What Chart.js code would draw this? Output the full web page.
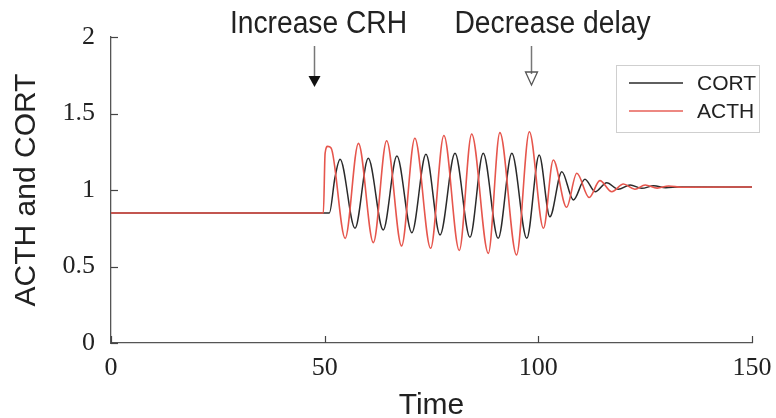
<!DOCTYPE html>
<html><head><meta charset="utf-8">
<script src="https://cdn.jsdelivr.net/npm/chart.js@4.4.1/dist/chart.umd.min.js"></script>
<style>html,body{margin:0;padding:0;background:#fff;}canvas{display:block;}</style>
</head><body>
<canvas id="c" width="776" height="418"></canvas>
<script>
const seriesNames = ['CORT', 'ACTH'];
const cortTime  = [0, 51.1, 52.4, 53.6, 57.1, 60.2, 63.7, 66.9, 70.4, 73.7, 77.0, 80.5, 84.0, 87.1, 90.6, 93.8, 97.3, 100.2, 102.7, 105.5, 108.2, 110.9, 113.3, 116.0, 118.7, 121.5, 124.2, 127.0, 129.8, 133.0, 150];
const cortValue = [0.85, 0.85, 1.08, 1.201, 0.750, 1.207, 0.739, 1.222, 0.721, 1.233, 0.706, 1.240, 0.691, 1.240, 0.684, 1.240, 0.684, 1.229, 0.825, 1.120, 0.935, 1.070, 0.989, 1.048, 1.005, 1.033, 1.011, 1.027, 1.015, 1.02, 1.02];
const acthTime  = [0, 49.7, 50.1, 50.7, 51.5, 54.8, 57.9, 61.4, 64.5, 68.0, 71.1, 74.8, 77.9, 81.5, 84.4, 88.3, 91.0, 94.9, 97.9, 101.2, 103.5, 106.6, 109.0, 111.9, 114.4, 117.2, 119.9, 122.6, 125.0, 127.8, 130.5, 133.5, 150];
const acthValue = [0.85, 0.85, 1.24, 1.285, 1.275, 0.684, 1.305, 0.656, 1.322, 0.634, 1.338, 0.619, 1.356, 0.605, 1.366, 0.586, 1.375, 0.575, 1.381, 0.750, 1.196, 0.887, 1.109, 0.951, 1.061, 0.989, 1.039, 1.005, 1.033, 1.012, 1.026, 1.018, 1.02];
const xTicks = [0, 50, 100, 150];
const yTicks = [0, 0.5, 1, 1.5, 2];
const eventTimes  = [47.6, 98.2];
const eventLabels = ['Increase CRH', 'Decrease delay'];
const xTitle = 'Time';
const yTitle = 'ACTH and CORT';

const COL_CORT = '#2a2a2a';
const COL_ACTH = '#e6564d';
const tickFont = {family: "'Liberation Serif', 'Times New Roman', serif", size: 26};
const titleFont = {family: "'Liberation Sans', Arial, sans-serif", size: 30, lineHeight: 1};

const toPts = (t, v) => t.map((x, i) => ({x: x, y: v[i]}));

const overlay = {
  id: 'overlay',
  afterDraw(chart) {
    const {ctx, chartArea: a, scales: {x, y}} = chart;
    ctx.save();
    // inward tick marks
    ctx.strokeStyle = '#444';
    ctx.lineWidth = 1.2;
    xTicks.forEach(v => {
      const px = Math.round(x.getPixelForValue(v)) + 0.5;
      ctx.beginPath(); ctx.moveTo(px, a.bottom); ctx.lineTo(px, a.bottom - 7); ctx.stroke();
    });
    yTicks.forEach(v => {
      const py = Math.round(y.getPixelForValue(v)) + 0.5;
      ctx.beginPath(); ctx.moveTo(a.left, py); ctx.lineTo(a.left + 7, py); ctx.stroke();
    });
    // legend box
    const bx = a.right - 136, by = a.top + 28, bw = 143, bh = 67;
    ctx.fillStyle = '#fff';
    ctx.fillRect(bx, by, bw, bh);
    ctx.strokeStyle = '#cfcfcf';
    ctx.lineWidth = 1;
    ctx.strokeRect(bx + 0.5, by + 0.5, bw, bh);
    ctx.font = "21px 'Liberation Sans', Arial, sans-serif";
    ctx.textBaseline = 'middle';
    ctx.textAlign = 'left';
    chart.data.datasets.slice().sort((p, q) => seriesNames.indexOf(p.label) - seriesNames.indexOf(q.label)).forEach((ds, i) => {
      const ly = by + 18 + i * 28;
      ctx.strokeStyle = ds.borderColor;
      ctx.lineWidth = ds.label === 'ACTH' ? 2 : 1.5;
      ctx.globalAlpha = ds.label === 'ACTH' ? 0.7 : 1;
      ctx.beginPath(); ctx.moveTo(bx + 13, ly); ctx.lineTo(bx + 67, ly); ctx.stroke();
      ctx.globalAlpha = 1;
      ctx.fillStyle = '#222';
      ctx.fillText(ds.label, bx + 81, ly + 1);
    });
    // event annotations
    const textDx = [4, 21];
    ctx.font = "31px 'Liberation Sans', Arial, sans-serif";
    ctx.textAlign = 'center';
    ctx.textBaseline = 'alphabetic';
    eventTimes.forEach((t, i) => {
      const px = Math.round(x.getPixelForValue(t)) + 0.5;
      ctx.save();
      ctx.translate(px + textDx[i], 33);
      ctx.scale(0.91, 1);
      ctx.fillStyle = '#222';
      ctx.fillText(eventLabels[i], 0, 0);
      ctx.restore();
      const headTop = i === 0 ? 76 : 72;
      const tip = i === 0 ? 87 : 85;
      ctx.strokeStyle = '#777';
      ctx.lineWidth = 1.5;
      ctx.beginPath(); ctx.moveTo(px, 46); ctx.lineTo(px, headTop + 2); ctx.stroke();
      ctx.beginPath();
      ctx.moveTo(px - 6, headTop); ctx.lineTo(px + 6, headTop); ctx.lineTo(px, tip); ctx.closePath();
      if (i === 0) { ctx.fillStyle = '#111'; ctx.fill(); }
      else { ctx.strokeStyle = '#555'; ctx.lineWidth = 1.3; ctx.stroke(); }
    });
    ctx.restore();
  }
};

new Chart(document.getElementById('c'), {
  type: 'line',
  data: {
    datasets: [
      {label: seriesNames[1], data: toPts(acthTime, acthValue), borderColor: COL_ACTH, borderWidth: 1.6, order: 0},
      {label: seriesNames[0], data: toPts(cortTime, cortValue), borderColor: COL_CORT, borderWidth: 1.5, order: 1}
    ]
  },
  options: {
    responsive: false,
    animation: false,
    layout: {padding: {top: 37, right: 24, left: 0, bottom: 0}},
    elements: {point: {radius: 0}, line: {cubicInterpolationMode: 'monotone', fill: false}},
    plugins: {legend: {display: false}, tooltip: {enabled: false}},
    scales: {
      x: {
        type: 'linear', min: 0, max: 150,
        afterBuildTicks: s => { s.ticks = xTicks.map(v => ({value: v})); },
        afterFit: s => { s.height = 75; s.paddingRight = 20; s.paddingLeft = 0; },
        grid: {display: false, drawTicks: false},
        border: {display: true, color: '#555', width: 1.3},
        ticks: {font: tickFont, color: '#222', padding: 10, maxRotation: 0, callback: v => String(v)},
        title: {display: true, text: xTitle, font: titleFont, color: '#222', padding: {top: 0, bottom: -3}}
      },
      y: {
        type: 'linear', min: 0, max: 2,
        afterBuildTicks: s => { s.ticks = yTicks.map(v => ({value: v})); },
        afterFit: s => { s.width = 111; },
        grid: {display: false, drawTicks: false},
        border: {display: true, color: '#555', width: 1.3},
        ticks: {font: tickFont, color: '#222', padding: 16, callback: v => String(v)},
        title: {display: true, text: yTitle, font: titleFont, color: '#222', padding: {top: 12, bottom: 0}}
      }
    }
  },
  plugins: [overlay]
});
</script>
</body></html>
